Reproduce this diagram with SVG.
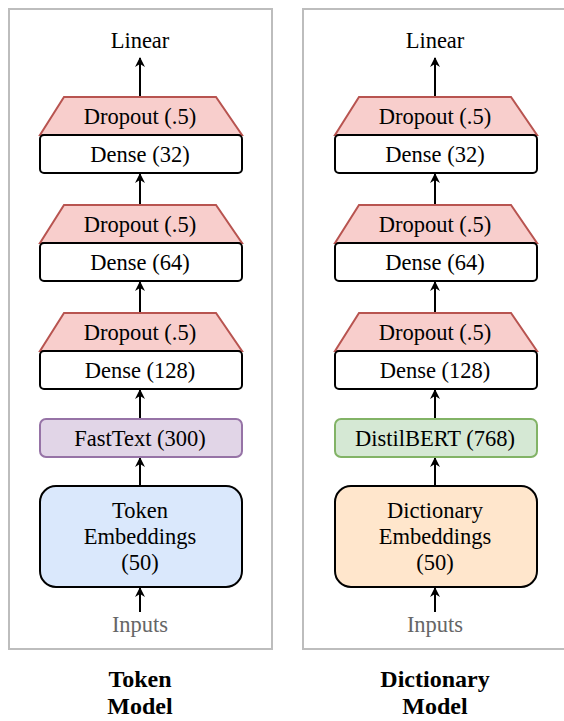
<svg xmlns="http://www.w3.org/2000/svg" width="564" height="721" viewBox="0 0 564 721">
<defs>
<style>
.panel{fill:#fff;stroke:#bdbdbd;stroke-width:2}
.drop{fill:#f8cecc;stroke:#b85450;stroke-width:2;stroke-linejoin:miter}
.dense{fill:#fff;stroke:#000;stroke-width:2}
text{font-family:'Liberation Serif',Tinos,'Times New Roman',Times,'Noto Serif','DejaVu Serif',FreeSerif,serif}
.t{font-size:22.5px;fill:#000;text-anchor:middle}
.g{fill:#666}
.b{font-weight:bold;font-size:24px}
.edge{stroke:#000;stroke-width:2;fill:none;marker-end:url(#ah)}
</style>
<marker id="ah" viewBox="0 0 10 10" refX="9" refY="5" markerWidth="5" markerHeight="5.5" orient="auto" markerUnits="strokeWidth">
<path d="M0,0 L10,5 L0,10 L3,5 Z" fill="#000"/>
</marker>
</defs>
<rect width="564" height="721" fill="#fff"/>
<g id="panel-left"><rect class="panel" x="9" y="9" width="263" height="640"/></g>
<g id="panel-right"><rect class="panel" x="303" y="9" width="264" height="640"/></g>

<g id="connectors">
<path class="edge" d="M140,97 V58"/>
<path class="edge" d="M140,205 V174"/>
<path class="edge" d="M140,313 V282"/>
<path class="edge" d="M140,419 V390"/>
<path class="edge" d="M140,486 V458"/>
<path class="edge" d="M140,612 V588"/>
<path class="edge" d="M435,97 V58"/>
<path class="edge" d="M435,205 V174"/>
<path class="edge" d="M435,313 V282"/>
<path class="edge" d="M435,419 V390"/>
<path class="edge" d="M435,486 V458"/>
<path class="edge" d="M435,612 V588"/>
</g>

<g id="left-linear"><text class="t" x="140" y="48">Linear</text></g>
<g id="left-dropout1"><path class="drop" d="M64,97 H216 L242,135 H40 Z"/><text class="t" x="140" y="124">Dropout (.5)</text></g>
<g id="left-dense32"><rect class="dense" x="40" y="135" width="202" height="38" rx="4"/><text class="t" x="140" y="162">Dense (32)</text></g>
<g id="left-dropout2"><path class="drop" d="M64,205 H216 L242,243 H40 Z"/><text class="t" x="140" y="232">Dropout (.5)</text></g>
<g id="left-dense64"><rect class="dense" x="40" y="243" width="202" height="38" rx="4"/><text class="t" x="140" y="270">Dense (64)</text></g>
<g id="left-dropout3"><path class="drop" d="M64,313 H216 L242,351 H40 Z"/><text class="t" x="140" y="340">Dropout (.5)</text></g>
<g id="left-dense128"><rect class="dense" x="40" y="351" width="202" height="38" rx="4"/><text class="t" x="140" y="378">Dense (128)</text></g>
<g id="left-fasttext"><rect x="40" y="419" width="202" height="38" rx="6" fill="#e1d5e7" stroke="#9673a6" stroke-width="2"/><text class="t" x="140" y="446">FastText (300)</text></g>
<g id="left-embed"><rect x="40" y="486" width="202" height="101" rx="16" fill="#dae8fc" stroke="#000" stroke-width="2"/><text class="t" x="140" y="518">Token</text><text class="t" x="140" y="544">Embeddings</text><text class="t" x="140" y="570">(50)</text></g>
<g id="left-inputs"><text class="t g" x="140" y="632">Inputs</text></g>
<g id="left-title"><text class="t b" x="140" y="687">Token</text><text class="t b" x="140" y="714">Model</text></g>

<g id="right-linear"><text class="t" x="435" y="48">Linear</text></g>
<g id="right-dropout1"><path class="drop" d="M359,97 H511 L537,135 H335 Z"/><text class="t" x="435" y="124">Dropout (.5)</text></g>
<g id="right-dense32"><rect class="dense" x="335" y="135" width="202" height="38" rx="4"/><text class="t" x="435" y="162">Dense (32)</text></g>
<g id="right-dropout2"><path class="drop" d="M359,205 H511 L537,243 H335 Z"/><text class="t" x="435" y="232">Dropout (.5)</text></g>
<g id="right-dense64"><rect class="dense" x="335" y="243" width="202" height="38" rx="4"/><text class="t" x="435" y="270">Dense (64)</text></g>
<g id="right-dropout3"><path class="drop" d="M359,313 H511 L537,351 H335 Z"/><text class="t" x="435" y="340">Dropout (.5)</text></g>
<g id="right-dense128"><rect class="dense" x="335" y="351" width="202" height="38" rx="4"/><text class="t" x="435" y="378">Dense (128)</text></g>
<g id="right-distilbert"><rect x="335" y="419" width="202" height="38" rx="6" fill="#d5e8d4" stroke="#82b366" stroke-width="2"/><text class="t" x="435" y="446">DistilBERT (768)</text></g>
<g id="right-embed"><rect x="335" y="486" width="202" height="101" rx="16" fill="#ffe6cc" stroke="#000" stroke-width="2"/><text class="t" x="435" y="518">Dictionary</text><text class="t" x="435" y="544">Embeddings</text><text class="t" x="435" y="570">(50)</text></g>
<g id="right-inputs"><text class="t g" x="435" y="632">Inputs</text></g>
<g id="right-title"><text class="t b" x="435" y="687">Dictionary</text><text class="t b" x="435" y="714">Model</text></g>
</svg>
